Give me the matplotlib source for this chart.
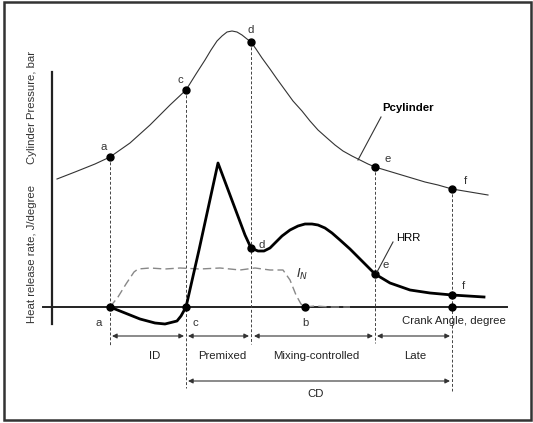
import matplotlib
matplotlib.use('Agg')
import matplotlib.pyplot as plt
import matplotlib.patches as patches

plt.rcParams['font.family'] = ['Liberation Sans', 'DejaVu Sans']

# Schematic drawn in picture units (x right, y down)
p_x = [57, 75, 95, 110, 130, 150, 170, 186, 196, 205, 211, 217, 222, 227, 232,
       237, 242, 247, 251, 256, 262, 270, 277, 285, 293, 302, 310, 318, 327,
       335, 343, 352, 360, 368, 375, 385, 395, 405, 415, 425, 438, 452, 470, 488]
p_y = [179, 172, 164, 157, 143, 125, 105, 90, 74, 60, 50, 41, 36, 32, 31,
       32, 35, 39, 42, 49, 58, 69, 79, 90, 101, 111, 121, 130, 138,
       145, 151, 156, 160, 164, 167, 170, 173, 176, 179, 182, 185, 189, 192, 195]

hrr_x = [110, 125, 140, 155, 165, 177, 181, 186, 199, 218, 230, 245, 251,
         258, 264, 270, 276, 282, 290, 298, 305, 312, 318, 325, 332, 340,
         350, 360, 368, 375, 390, 410, 430, 452, 468, 484]
hrr_y = [307, 313, 319, 323, 324, 321, 316, 307, 250, 163, 195, 235, 248,
         251, 251, 248, 242, 236, 230, 226, 224, 224, 225, 228, 233, 240,
         249, 259, 267, 274, 283, 290, 293, 295, 296, 297]

inj_x = [110, 118, 126, 134, 138, 150, 165, 180, 200, 220, 240, 255, 270,
         283, 290, 296, 301, 305, 315, 330, 350]
inj_y = [307, 297, 284, 272, 269, 268, 269, 268, 269, 268, 270, 268, 270,
         270, 280, 295, 304, 307, 306, 307, 307]

# event points on the curves
p_pts = [('a', 110, 157), ('c', 186, 90), ('d', 251, 42), ('e', 375, 167), ('f', 452, 189)]
h_pts = [('d', 251, 248), ('e', 375, 274), ('f', 452, 295)]
base_pts = [('a', 110), ('c', 186), ('b', 305), (None, 452)]

# vertical dashed lines: x, top, bottom
vlines = [(110, 157, 345), (186, 90, 388), (251, 42, 344), (375, 167, 343), (452, 189, 391)]

phases = ['ID', 'Premixed', 'Mixing-controlled', 'Late']
phase_x = [(112, 184), (188, 249), (254, 373), (377, 450)]
phase_lab_x = [155, 222, 316, 415]

fig = plt.figure(figsize=(5.33, 4.23), dpi=100)
ax = fig.add_axes([0, 0, 1, 1])
ax.set_xlim(0, 533)
ax.set_ylim(423, 0)
ax.axis('off')

fs = 8.2

# frame
ax.add_patch(patches.Rectangle((4, 2), 527, 418, fill=False, ec='#333333', lw=1.8))

# axes lines
ax.plot([52, 52], [72, 324], color='#222222', lw=1.6)
ax.plot([43, 507], [307, 307], color='#222222', lw=1.4)

for x, y0, y1 in vlines:
    ax.plot([x, x], [y0, y1], color='#444444', lw=0.7, ls=(0, (3, 2)))

ax.plot(p_x, p_y, color='#333333', lw=0.8)
ax.plot(inj_x, inj_y, color='#888888', lw=1.0, ls=(0, (6, 3)))
ax.plot(hrr_x, hrr_y, color='black', lw=2.0)

ms = 5
for lab, x, y in p_pts:
    ax.plot(x, y, 'o', color='black', ms=ms)
    if lab in 'ac':
        tx, ty = x - 6, y - 10
    elif lab == 'd':
        tx, ty = x, y - 12
    else:
        tx, ty = x + 13, y - 8
    ax.text(tx, ty, lab, fontsize=fs, ha='center', va='center', color='#333333')
for lab, x, y in h_pts:
    ax.plot(x, y, 'o', color='black', ms=ms)
    ax.text(x + 11, y - 3 if lab == 'd' else y - 9, lab, fontsize=fs, ha='center', va='center', color='#333333')
for lab, x in base_pts:
    ax.plot(x, 307, 'o', color='black', ms=ms)
    if lab:
        dx = {'a': -11, 'c': 9, 'b': 0}[lab]
        ax.text(x + dx, 323, lab, fontsize=fs, ha='center', va='center', color='#333333')

# curve labels
ax.text(408, 108, 'Pcylinder', fontsize=fs, fontweight='bold', ha='center', va='center')
ax.plot([381, 358], [117, 160], color='#333333', lw=0.8)
ax.text(408, 238, 'HRR', fontsize=fs, ha='center', va='center')
ax.plot([393, 377], [242, 272], color='#333333', lw=0.8)
ax.text(302, 274, r'$I_N$', fontsize=fs + 1, ha='center', va='center', color='#333333')
ax.text(454, 321, 'Crank Angle, degree', fontsize=fs, ha='center', va='center', color='#222222')

ax.text(32, 107, 'Cylinder Pressure, bar', fontsize=fs, rotation=90, ha='center', va='center', color='#333333')
ax.text(32, 254, 'Heat release rate, J/degree', fontsize=fs, rotation=90, ha='center', va='center', color='#333333')

arrow = dict(arrowstyle='<|-|>', color='#333333', lw=0.8, mutation_scale=7, shrinkA=0, shrinkB=0)
for name, (x0, x1), lx in zip(phases, phase_x, phase_lab_x):
    ax.annotate('', xy=(x0, 336), xytext=(x1, 336), arrowprops=arrow)
    ax.text(lx, 356, name, fontsize=fs, ha='center', va='center', color='#222222')
ax.annotate('', xy=(188, 381), xytext=(450, 381), arrowprops=arrow)
ax.text(316, 394, 'CD', fontsize=fs, ha='center', va='center', color='#222222')

fig.savefig('out.png', dpi=100)
